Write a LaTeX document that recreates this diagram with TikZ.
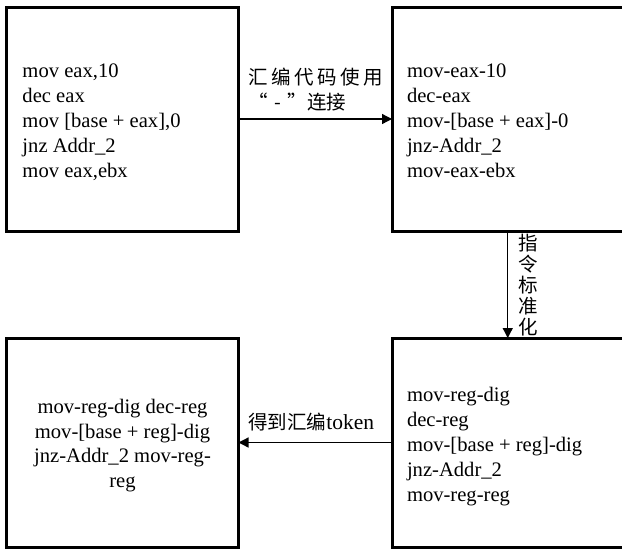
\documentclass[tikz,border=0pt]{standalone}
\usepackage{fontspec}
\setmainfont{Liberation Serif}
\newfontfamily\cjk{Noto Sans CJK SC}
\usetikzlibrary{arrows.meta}
\begin{document}
\begin{tikzpicture}[x=1pt,y=-1pt,
  box/.style={draw, line width=3pt, rectangle, inner sep=0pt, outer sep=0pt},
  code/.style={font=\fontsize{20.6}{25}\selectfont, inner sep=0pt, outer sep=0pt},
  arr/.style={line width=1.3pt, -{Triangle[length=10pt,width=10pt]}},
  lab/.style={font=\cjk\fontsize{19.5}{25}\selectfont, inner sep=0pt, outer sep=0pt}]
\useasboundingbox (0,0) rectangle (622,550);
\clip (0,0) rectangle (622,550);
% boxes
\node[box, minimum width=232pt, minimum height=224pt] (tl) at (122.5,119) {};
\node[box, minimum width=231.5pt, minimum height=224pt] (tr) at (507.75,119) {};
\node[box, minimum width=232pt, minimum height=209pt] (bl) at (122.5,442.5) {};
\node[box, minimum width=231.5pt, minimum height=209pt] (br) at (507.75,442.5) {};
% box texts
\node[code, align=left, anchor=north west] (tlt) at (22.5,63.4)
  {mov eax,10\\dec eax\\mov [base + eax],0\\jnz Addr\_2\\mov eax,ebx};
\node[code, align=left, anchor=north west] (trt) at (407,63.4)
  {mov-eax-10\\dec-eax\\mov-[base + eax]-0\\jnz-Addr\_2\\mov-eax-ebx};
\node[code, align=left, anchor=north west] (brt) at (407,387.6)
  {mov-reg-dig\\dec-reg\\mov-[base + reg]-dig\\jnz-Addr\_2\\mov-reg-reg};
\node[code, font=\fontsize{20.6}{24.5}\selectfont, align=center, anchor=north] (blt) at (122.5,399.2)
  {mov-reg-dig dec-reg\\mov-[base + reg]-dig\\jnz-Addr\_2 mov-reg-\\reg};
% connectors
\draw[arr] (tl.east) -- (tr.west);
\draw[arr] (tr.south) -- (br.north);
\draw[arr] (br.west) -- (bl.east);
% labels
\node[lab, align=left, anchor=west] (lab1) at (248.3,89.2)
  {汇\hspace{3.5pt}编\hspace{3.5pt}代\hspace{3.5pt}码\hspace{3.5pt}使\hspace{3.5pt}用\\
   \makebox[19.5pt][r]{“}\makebox[20pt][c]{-}\makebox[19.5pt][l]{”}连接};
\node[lab, font=\cjk\fontsize{19.5}{21}\selectfont, align=center] (lab2) at (528,285)
  {指\\令\\标\\准\\化};
\node[lab, anchor=west] (lab3) at (248.3,421.7)
  {得到汇编{\rmfamily\fontsize{21.5}{25}\selectfont token}};
\end{tikzpicture}
\end{document}
